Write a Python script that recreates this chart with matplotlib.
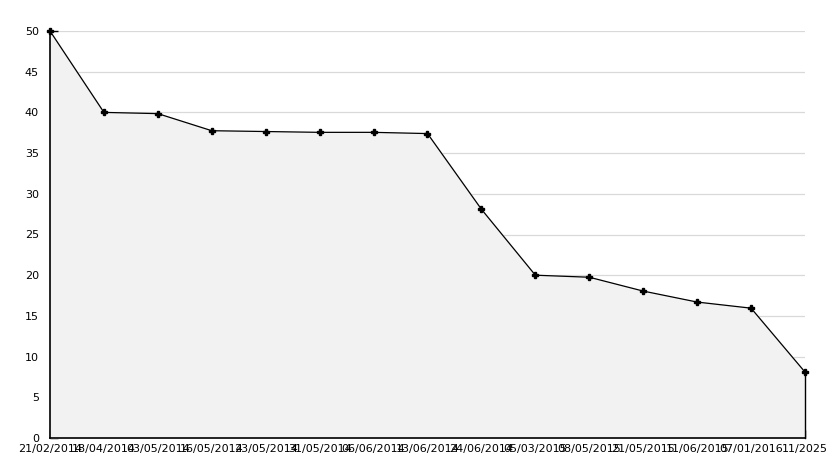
import matplotlib
matplotlib.use("Agg")
import matplotlib.pyplot as plt
from matplotlib.ticker import MultipleLocator

labels = ["21/02/2014", "18/04/2014", "03/05/2014", "16/05/2014", "23/05/2014",
          "31/05/2014", "06/06/2014", "13/06/2014", "24/06/2014", "05/03/2015",
          "08/05/2015", "21/05/2015", "11/06/2015", "07/01/2016", "11/2025"]
values = [50, 40, 39.85, 37.75, 37.65, 37.55, 37.55, 37.4, 28.1, 20.0,
          19.75, 18.05, 16.7, 15.95, 8.1]

W, H = 834, 468
fig = plt.figure(figsize=(W / 100, H / 100), dpi=100)
ax = fig.add_axes([50 / W, (H - 438) / H, (805 - 50) / W, (438 - 31) / H])

x = list(range(len(values)))
ax.fill_between(x, values, 0, color="#f2f2f2", zorder=1)
ax.plot(x, values, color="black", lw=0.9, marker="P", markersize=5, zorder=4, clip_on=False)
ax.plot([x[-1], x[-1]], [0, values[-1]], color="black", lw=1.0, zorder=4, clip_on=False)

ax.set_xlim(0, len(values) - 1)
ax.set_ylim(0, 50)
ax.yaxis.set_major_locator(MultipleLocator(5))
ax.yaxis.set_minor_locator(MultipleLocator(1))
ax.set_xticks(x)
ax.set_xticklabels(labels)
ax.grid(axis="y", color="#d9d9d9", lw=0.9, zorder=0)
ax.set_axisbelow(True)

for s in ["top", "right"]:
    ax.spines[s].set_visible(False)
for s in ["left", "bottom"]:
    ax.spines[s].set_linewidth(1.2)

ax.tick_params(axis="y", which="major", direction="in", length=6, width=1, labelsize=8, pad=8)
ax.tick_params(axis="y", which="minor", direction="in", length=3, width=1)
ax.tick_params(axis="x", which="major", direction="in", length=6, width=1, labelsize=8, pad=4)

fig.savefig("out.png", dpi=100, facecolor="white")
